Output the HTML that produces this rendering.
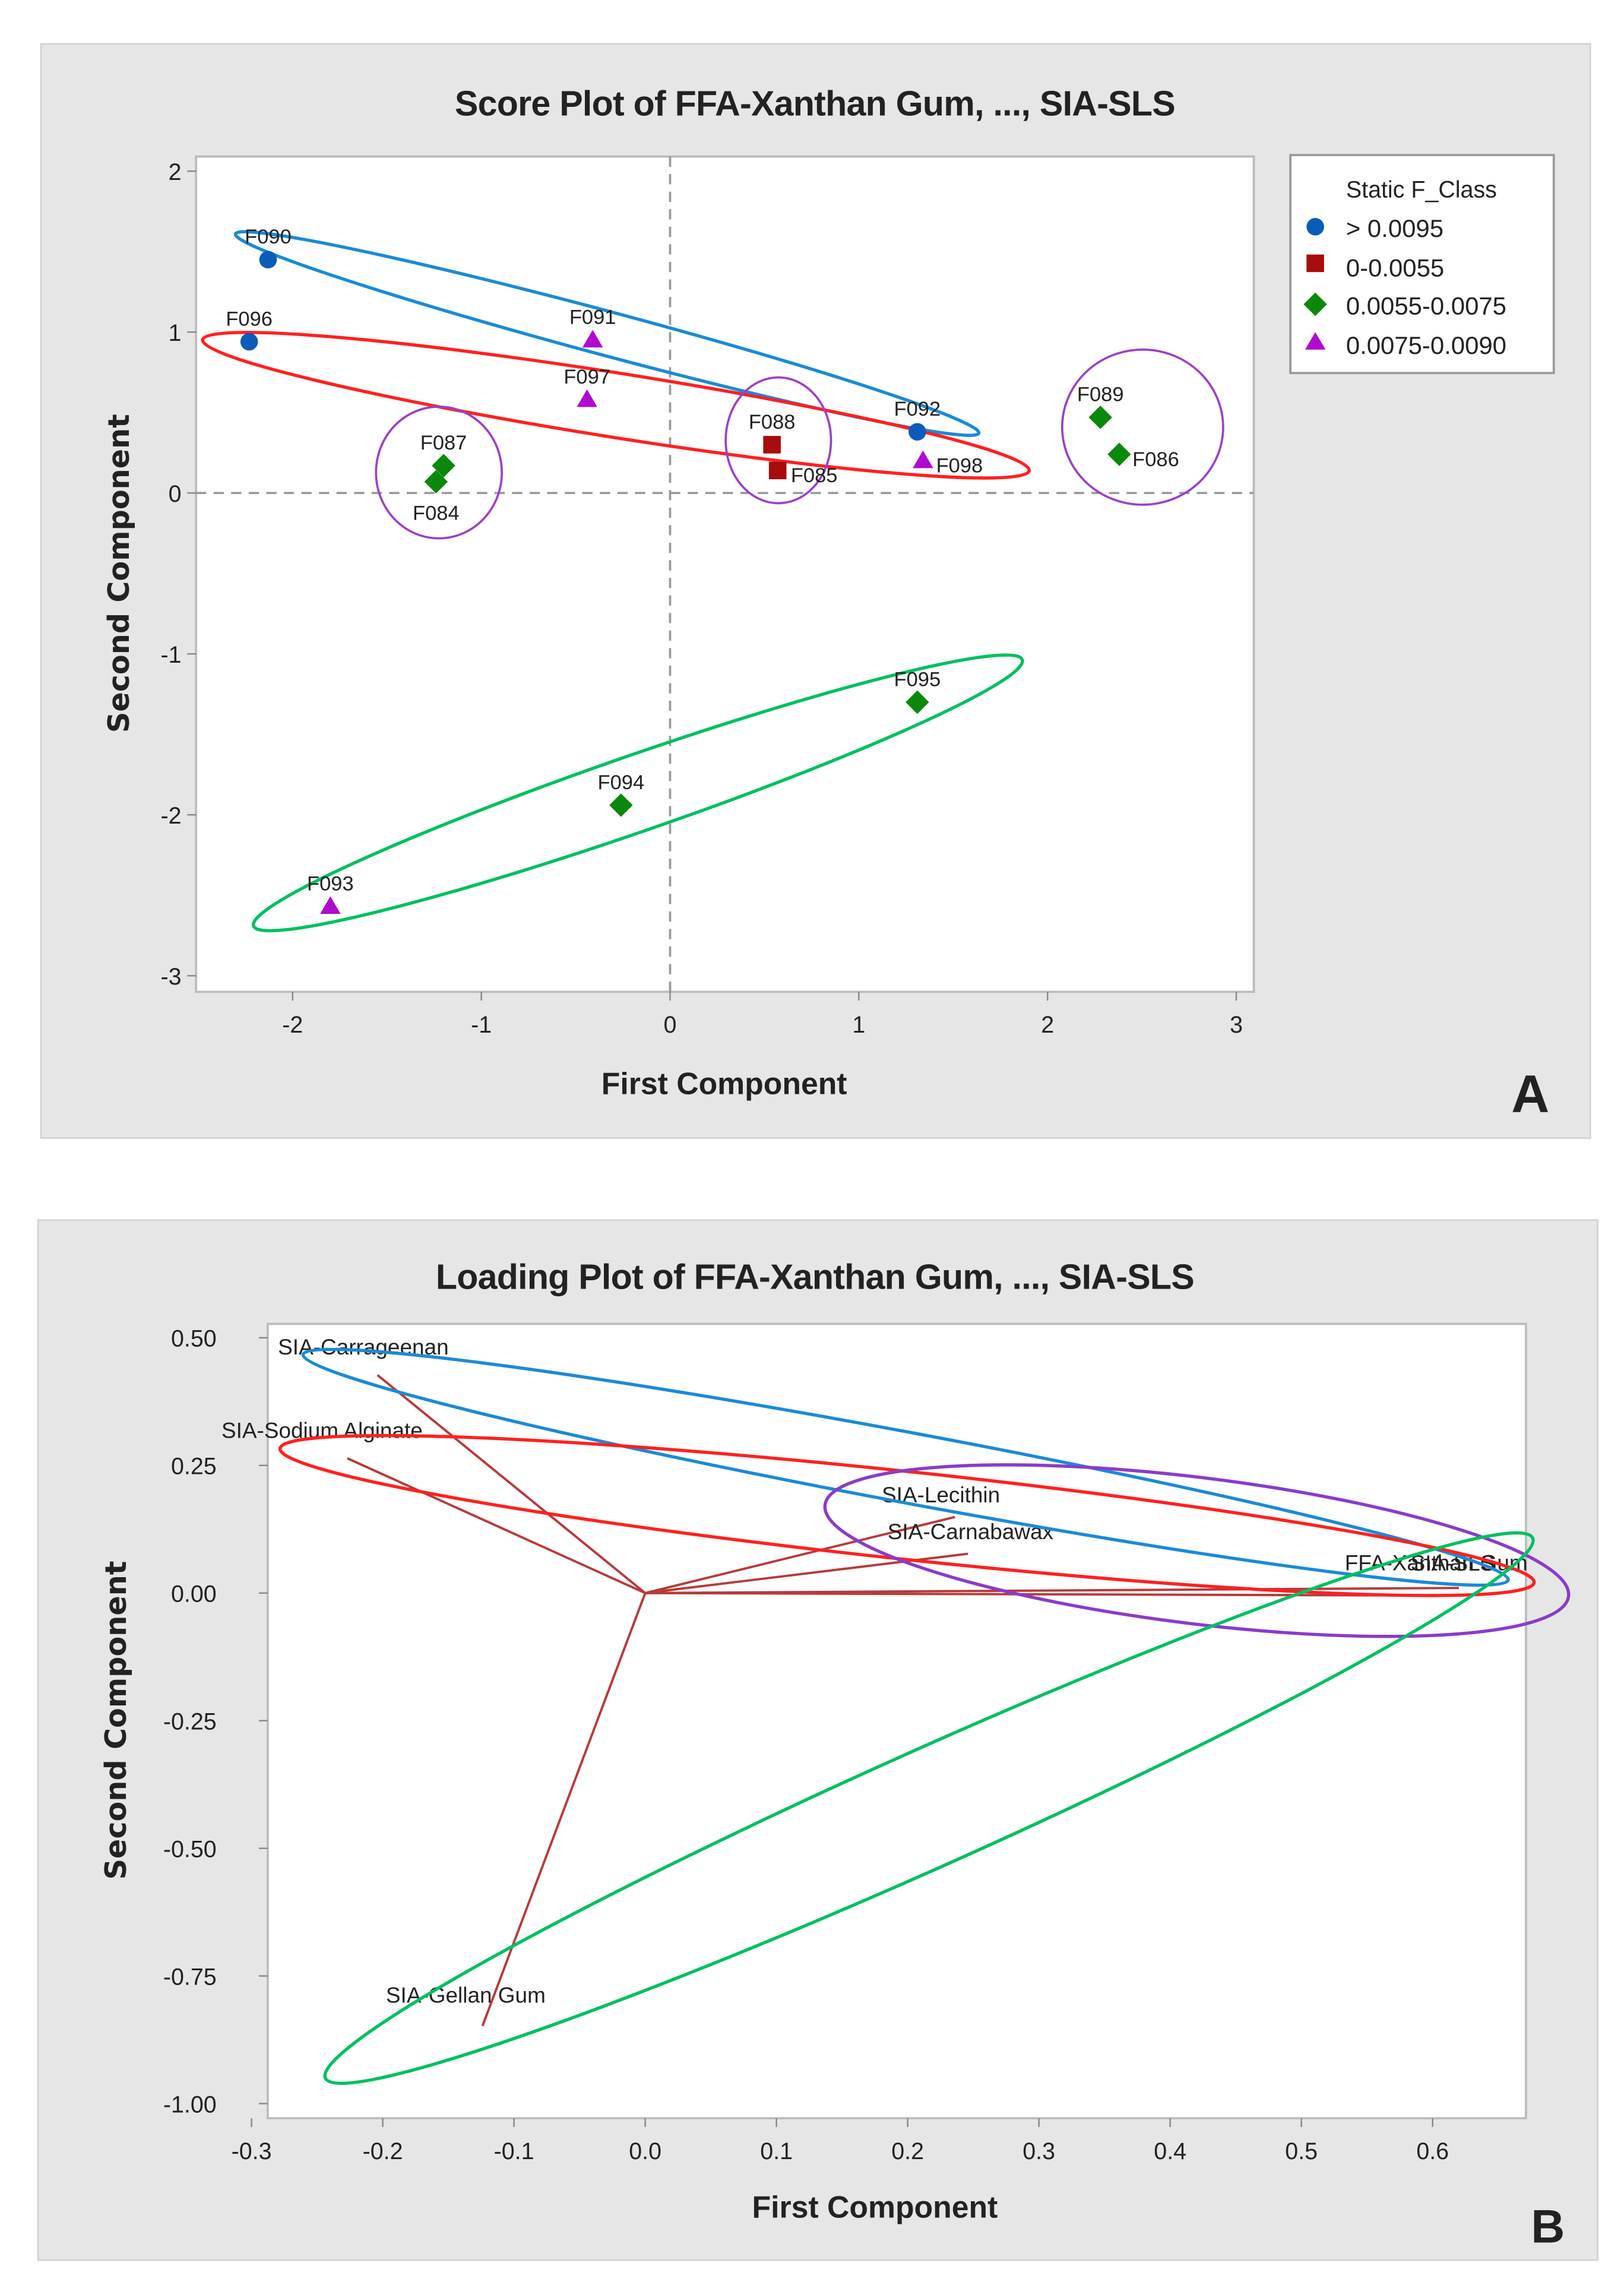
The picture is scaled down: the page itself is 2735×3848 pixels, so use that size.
<!DOCTYPE html>
<html><head><meta charset="utf-8"><style>
html,body{margin:0;padding:0;background:#fff;}
svg{display:block;}
text{font-family:"Liberation Sans","DejaVu Sans",sans-serif;fill:#222;}
</style></head><body>
<svg id="fig" width="2735" height="3848" viewBox="0 0 1110 1562" preserveAspectRatio="none" xmlns="http://www.w3.org/2000/svg">
<g id="pa">
<rect x="28" y="30" width="1059" height="748" fill="#e6e6e6" stroke="#d0d0d0"/>
<text x="557" y="79" text-anchor="middle" font-size="24" font-weight="bold" letter-spacing="-0.3">Score Plot of FFA-Xanthan Gum, ..., SIA-SLS</text>
<rect x="134" y="107" width="723" height="571" fill="#fff" stroke="#bbb" stroke-width="1.5"/>
<text x="495" y="748" text-anchor="middle" font-size="21" font-weight="bold">First Component</text>
<text transform="translate(88,392) rotate(-90)" text-anchor="middle" font-size="20" font-weight="bold" style="font-family:'DejaVu Sans',sans-serif">Second Component</text>
<text x="1046" y="760" text-anchor="middle" font-size="36" font-weight="bold" fill="#000">A</text>
<g id="aAxes"></g>
<g id="aEll" fill="none" stroke-width="2.2">
<ellipse cx="415" cy="228" rx="263" ry="15" transform="rotate(15 415 228)" stroke="#1b8ad6"/>
<ellipse cx="421" cy="277" rx="286" ry="22" transform="rotate(9 421 277)" stroke="#ff2020"/>
<ellipse cx="436" cy="542" rx="278" ry="26" transform="rotate(-19.1 436 542)" stroke="#00c060"/>
<ellipse cx="300" cy="323" rx="43" ry="45" stroke="#9b40c8" stroke-width="1.5"/>
<ellipse cx="532" cy="301" rx="36" ry="43" stroke="#9b40c8" stroke-width="1.5"/>
<ellipse cx="781" cy="292" rx="55" ry="53" stroke="#9b40c8" stroke-width="1.5"/>
</g>
<g id="aPts"></g>
<g>
<rect x="882" y="106" width="180" height="149" fill="#fff" stroke="#999" stroke-width="1.5"/>
<text x="920" y="135" font-size="16">Static F_Class</text>
<circle cx="899" cy="155" r="6" fill="#0a5cb8"/>
<text x="920" y="162" font-size="17">&gt; 0.0095</text>
<rect x="893" y="174" width="12" height="12" fill="#a80c0c"/>
<text x="920" y="189" font-size="17">0-0.0055</text>
<path d="M899,200 L907,208 L899,216 L891,208Z" fill="#0a880a"/>
<text x="920" y="215" font-size="17">0.0055-0.0075</text>
<path d="M899,227 L906,239 L892,239Z" fill="#b00ad0"/>
<text x="920" y="242" font-size="17">0.0075-0.0090</text>
</g>
</g>
<g id="pb">
<rect x="26" y="834" width="1066" height="711" fill="#e6e6e6" stroke="#d0d0d0"/>
<text x="557" y="881" text-anchor="middle" font-size="24" font-weight="bold" letter-spacing="-0.3">Loading Plot of FFA-Xanthan Gum, ..., SIA-SLS</text>
<rect x="183" y="905" width="860" height="543" fill="#fff" stroke="#bbb" stroke-width="1.5"/>
<text x="598" y="1516" text-anchor="middle" font-size="21" font-weight="bold">First Component</text>
<text transform="translate(86,1176) rotate(-90)" text-anchor="middle" font-size="20" font-weight="bold" style="font-family:'DejaVu Sans',sans-serif">Second Component</text>
<text x="1058" y="1533" text-anchor="middle" font-size="32" font-weight="bold" fill="#000">B</text>
<g id="bAxes"></g>
<g id="bLines"></g>
<g fill="none" stroke-width="2.2">
<ellipse cx="619" cy="1003" rx="419" ry="24" transform="rotate(10.6 619 1003)" stroke="#1b8ad6"/>
<ellipse cx="620" cy="1036" rx="431" ry="30" transform="rotate(6.1 620 1036)" stroke="#ff2020"/>
<ellipse cx="818" cy="1060" rx="256" ry="50" transform="rotate(7 818 1060)" stroke="#8a3cc8"/>
<ellipse cx="635" cy="1236" rx="452" ry="40" transform="rotate(-24.1 635 1236)" stroke="#00c060"/>
</g>
</g>
</svg>
<script>
const NS="http://www.w3.org/2000/svg";
// Score plot data
const scoreNames=["F090","F096","F092","F088","F085","F087","F084","F089","F086","F095","F094","F091","F097","F098","F093"];
const scoreX=[-2.13,-2.23,1.31,0.54,0.57,-1.20,-1.24,2.28,2.38,1.31,-0.26,-0.41,-0.44,1.34,-1.80];
const scoreY=[1.45,0.94,0.38,0.30,0.14,0.17,0.07,0.47,0.24,-1.30,-1.94,0.95,0.58,0.20,-2.57];
const scoreClass=[0,0,0,1,1,2,2,2,2,2,2,3,3,3,3];
const scoreLabelSide=["a","a","a","a","r","a","b","a","r","a","a","a","a","r","a"];
const scoreXTicks=[-2,-1,0,1,2,3];
const scoreYTicks=[2,1,0,-1,-2,-3];
// Loading plot data
const loadNames=["SIA-Carrageenan","SIA-Sodium Alginate","SIA-Lecithin","SIA-Carnabawax","SIA-Gellan Gum","FFA-Xanthan Gum","SIA-SLS"];
const loadX=[-0.204,-0.227,0.236,0.246,-0.124,0.62,0.62];
const loadY=[0.427,0.264,0.149,0.077,-0.848,0.01,-0.005];
const loadXTicks=[-0.3,-0.2,-0.1,0.0,0.1,0.2,0.3,0.4,0.5,0.6];
const loadYTicks=[0.50,0.25,0.00,-0.25,-0.50,-0.75,-1.00];

const ax=v=>458+v*129, ay=v=>337-v*110;
const bx=v=>441+v*897, by=v=>1089-v*349;
function mk(tag,attrs,parent){const e=document.createElementNS(NS,tag);for(const k in attrs)e.setAttribute(k,attrs[k]);parent.appendChild(e);return e;}

const aA=document.getElementById('aAxes');
let e;
e=mk('line',{x1:ax(0),y1:107,x2:ax(0),y2:678,stroke:'#999','stroke-width':1.5,'stroke-dasharray':'7 5'},aA);


e=mk('line',{x1:134,y1:ay(0),x2:857,y2:ay(0),stroke:'#999','stroke-width':1.5,'stroke-dasharray':'7 5'},aA);


scoreXTicks.forEach(t=>{
  mk('line',{x1:ax(t),y1:678,x2:ax(t),y2:684,stroke:'#888'},aA);
  e=mk('text',{x:ax(t),y:706,'text-anchor':'middle','font-size':16,fill:'#111'},aA);e.textContent=t;
  
  
});
scoreYTicks.forEach(t=>{
  mk('line',{x1:128,y1:ay(t),x2:134,y2:ay(t),stroke:'#888'},aA);
  e=mk('text',{x:124,y:ay(t)+6,'text-anchor':'end','font-size':16,fill:'#111'},aA);e.textContent=t;
  
  
});
const cols=['#0a5cb8','#a80c0c','#0a880a','#b00ad0'];
const aP=document.getElementById('aPts');
scoreNames.forEach((n,i)=>{
  const x=ax(scoreX[i]),y=ay(scoreY[i]),c=scoreClass[i];let m;
  if(c===0)m=mk('circle',{cx:x,cy:y,r:6,fill:cols[0]},aP);
  else if(c===1)m=mk('rect',{x:x-6,y:y-6,width:12,height:12,fill:cols[1]},aP);
  else if(c===2)m=mk('path',{d:`M${x},${y-8}L${x+8},${y}L${x},${y+8}L${x-8},${y}Z`,fill:cols[2]},aP);
  else m=mk('path',{d:`M${x},${y-7}L${x+7},${y+5}L${x-7},${y+5}Z`,fill:cols[3]},aP);
  
  
  const s=scoreLabelSide[i];
  let lx=x,ly=y-11,anc='middle';
  if(s==='b'){ly=y+26;}
  if(s==='r'){lx=x+9;ly=y+8;anc='start';}
  const t=mk('text',{x:lx,y:ly,'text-anchor':anc,'font-size':14},aP);t.textContent=n;
  
  
});

const bA=document.getElementById('bAxes');
loadXTicks.forEach(t=>{
  mk('line',{x1:bx(t),y1:1448,x2:bx(t),y2:1454,stroke:'#888'},bA);
  e=mk('text',{x:bx(t),y:1476,'text-anchor':'middle','font-size':16,fill:'#111'},bA);e.textContent=t.toFixed(1);
  
  
});
loadYTicks.forEach(t=>{
  mk('line',{x1:177,y1:by(t),x2:183,y2:by(t),stroke:'#888'},bA);
  e=mk('text',{x:148,y:by(t)+6,'text-anchor':'end','font-size':16,fill:'#111'},bA);e.textContent=t.toFixed(2);
  
  
});
const bL=document.getElementById('bLines');
const lblOff=[[-68,-14],[-86,-14],[-50,-10],[-55,-10],[-66,-16],[-78,-12],[-33,-17]];
loadNames.forEach((n,i)=>{
  const x=bx(loadX[i]),y=by(loadY[i]);
  const l=mk('line',{x1:bx(0),y1:by(0),x2:x,y2:y,stroke:'#b83a3a','stroke-width':1.6},bL);
  
  
  const t=mk('text',{x:x+lblOff[i][0],y:y+lblOff[i][1],'font-size':15},bL);t.textContent=n;
  
  
});
</script>
</body></html>
